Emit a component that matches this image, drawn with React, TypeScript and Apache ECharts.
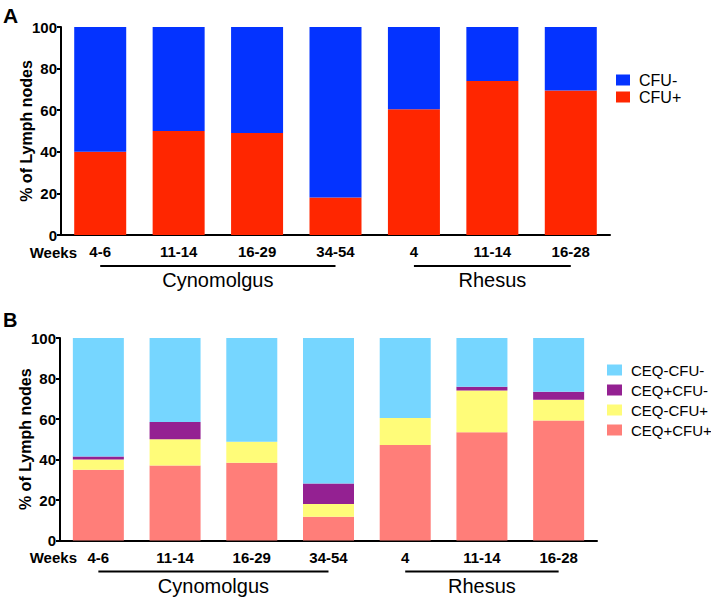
import React, { useEffect, useRef } from "react";
import * as echarts from "echarts";

const categories = ["4-6", "11-14", "16-29", "34-54", "4", "11-14", "16-28"];
const groupNames = ["Cynomolgus", "Rhesus"];
const groupRanges = [[0, 3], [4, 6]];

// Panel A
const cfuPos = [40, 50, 49, 18, 60.5, 74, 69.5];
const cfuNeg = [60, 50, 51, 82, 39.5, 26, 30.5];

// Panel B
const ceqPosCfuPos = [35, 37, 38.4, 11.7, 47.1, 53.4, 59.3];
const ceqNegCfuPos = [5, 13, 10.4, 6.3, 13.4, 20.7, 10.2];
const ceqPosCfuNeg = [1.5, 8.5, 0, 10.2, 0, 1.8, 4];
const ceqNegCfuNeg = [58.5, 41.5, 51.2, 71.8, 39.5, 24.1, 26.5];

const yTicks = [0, 20, 40, 60, 80, 100];

const FONT = "'Liberation Sans', Arial, Helvetica, sans-serif";

export default function App() {
  const ref = useRef<HTMLDivElement>(null);
  useEffect(() => {
    document.body.style.margin = "0";
    const chart = echarts.init(ref.current!, null, { renderer: "svg" });

    const grids = [
      { left: 61, top: 27, width: 549, height: 208, outerBoundsMode: "none" },
      { left: 60, top: 338, width: 537, height: 202.5, outerBoundsMode: "none" },
    ];

    const xAxis = grids.map((_, i) => ({
      type: "category" as const,
      gridIndex: i,
      data: categories,
      axisLine: { lineStyle: { color: "#000", width: 2 } },
      axisTick: { alignWithLabel: true, length: 5, lineStyle: { color: "#000", width: 2 } },
      axisLabel: { color: "#000", fontWeight: "bold", fontSize: 15, fontFamily: FONT, margin: 9 },
    }));

    const yAxis = grids.map((_, i) => ({
      type: "value" as const,
      gridIndex: i,
      min: yTicks[0],
      max: yTicks[yTicks.length - 1],
      interval: 20,
      name: "% of Lymph nodes",
      nameLocation: "middle" as const,
      nameGap: 27,
      nameMoveOverlap: false,
      nameTextStyle: { color: "#000", fontWeight: "bold", fontSize: 16, fontFamily: FONT },
      axisLine: { show: true, lineStyle: { color: "#000", width: 2 } },
      axisTick: { show: true, length: 4, lineStyle: { color: "#000", width: 2 } },
      splitLine: { show: false },
      axisLabel: { color: "#000", fontWeight: "bold", fontSize: 15, fontFamily: FONT, margin: 4 },
    }));

    const barA = (name: string, data: number[], color: string) => ({
      name, type: "bar" as const, stack: "a", data, barWidth: 52,
      xAxisIndex: 0, yAxisIndex: 0, itemStyle: { color },
    });
    const barB = (name: string, data: number[], color: string) => ({
      name, type: "bar" as const, stack: "b", data, barWidth: 51,
      xAxisIndex: 1, yAxisIndex: 1, itemStyle: { color },
    });

    chart.setOption({
      animation: false,
      textStyle: { fontFamily: FONT },
      grid: grids,
      xAxis,
      yAxis,
      legend: [
        {
          orient: "vertical", left: 611, top: 67, itemWidth: 14, itemHeight: 11, itemGap: 1,
          icon: "rect", data: ["CFU-", "CFU+"],
          textStyle: { fontSize: 16, color: "#000", fontFamily: FONT, padding: [0, 0, 0, 4] },
        },
        {
          orient: "vertical", left: 602, top: 357.5, itemWidth: 15, itemHeight: 11, itemGap: 5,
          icon: "rect", data: ["CEQ-CFU-", "CEQ+CFU-", "CEQ-CFU+", "CEQ+CFU+"],
          textStyle: { fontSize: 15, color: "#000", fontFamily: FONT, padding: [0, 0, 0, 4] },
        },
      ],
      series: [
        barA("CFU+", cfuPos, "#FF2600"),
        barA("CFU-", cfuNeg, "#0433FF"),
        barB("CEQ+CFU+", ceqPosCfuPos, "#FF7E79"),
        barB("CEQ-CFU+", ceqNegCfuPos, "#FFFC79"),
        barB("CEQ+CFU-", ceqPosCfuNeg, "#942192"),
        barB("CEQ-CFU-", ceqNegCfuNeg, "#76D6FF"),
      ],
    });

    // Annotation graphics (panel letters, "Weeks", group underlines)
    const graphic: any[] = [];
    const panelLetters = ["A", "B"];
    const letterTops = [5, 310];
    panelLetters.forEach((t, i) => {
      graphic.push({
        type: "text", left: 3, top: letterTops[i],
        style: { text: t, font: `bold ${i === 0 ? 21 : 20}px ${FONT}`, fill: "#000" },
      });
    });
    grids.forEach((g, gi) => {
      const axisY = g.top + g.height;
      graphic.push({
        type: "text", x: 77, y: axisY + 17,
        style: { text: "Weeks", font: `bold 15px ${FONT}`, fill: "#000", textAlign: "right", textVerticalAlign: "middle" },
      });
      groupRanges.forEach((r, k) => {
        const x0 = chart.convertToPixel({ xAxisIndex: gi }, r[0]) as number;
        const x1 = chart.convertToPixel({ xAxisIndex: gi }, r[1]) as number;
        const lineY = axisY + 31;
        graphic.push({
          type: "line", shape: { x1: x0, y1: lineY, x2: x1, y2: lineY },
          style: { stroke: "#000", lineWidth: 2 },
        });
        graphic.push({
          type: "text", x: (x0 + x1) / 2, y: lineY + 14,
          style: { text: groupNames[k], font: `20px ${FONT}`, fill: "#000", textAlign: "center", textVerticalAlign: "middle" },
        });
      });
    });
    chart.setOption({ graphic });

    return () => chart.dispose();
  }, []);
  return <div ref={ref} style={{ position: "absolute", left: 0, top: 0, width: 711, height: 597 }} />;
}
